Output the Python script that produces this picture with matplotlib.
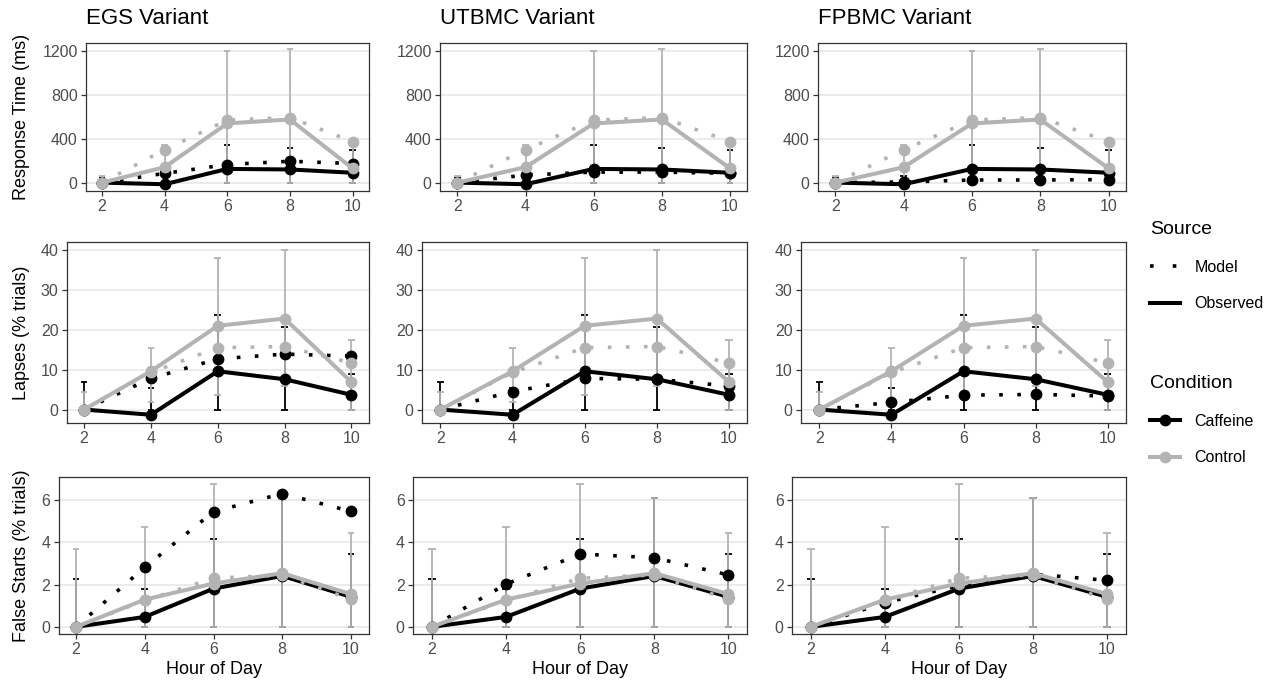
import numpy as np
import matplotlib.pyplot as plt
from matplotlib.lines import Line2D

plt.rcParams['font.family'] = ['Liberation Sans', 'DejaVu Sans']

# ---------------- data ----------------
hours = np.array([2, 4, 6, 8, 10])
variants = ["EGS Variant", "UTBMC Variant", "FPBMC Variant"]
row_titles = ["Response Time (ms)", "Lapses (% trials)", "False Starts (% trials)"]

# Response time
rt_obs_caf = [0, -15, 125, 120, 90]
rt_obs_con = [0, 141, 540, 576, 130]
rt_mod_con = [0, 300, 570, 594, 375]
rt_mod_caf_egs = [0, 84, 165, 195, 174]
rt_mod_caf_utbmc = [0, 69, 96, 96, 84]
rt_mod_caf_fpbmc = [0, 5, 24, 24, 28]
rt_err_caf_lo = [0, 0, 0, 0, 0]
rt_err_caf_hi = [40, 60, 345, 315, 295]
rt_err_con_lo = [0, 0, 0, 0, 0]
rt_err_con_hi = [60, 340, 1200, 1215, 360]

# Lapses
lap_obs_caf = [0, -1.3, 9.6, 7.6, 3.7]
lap_obs_con = [0, 9.6, 21.0, 22.8, 6.9]
lap_mod_con = [0, 9.3, 15.5, 15.8, 11.7]
lap_mod_caf_egs = [0, 7.8, 12.7, 13.9, 13.4]
lap_mod_caf_utbmc = [0, 4.5, 7.8, 7.6, 5.9]
lap_mod_caf_fpbmc = [0, 1.8, 3.6, 3.8, 3.4]
lap_err_caf_lo = [0, 0, 0, 0, 0]
lap_err_caf_hi = [7.0, 5.5, 23.7, 20.7, 9.0]
lap_err_con_lo = [0, 1.8, 3.7, 5.8, 0]
lap_err_con_hi = [4.5, 15.4, 38.0, 40.0, 17.4]

# False starts
fs_obs_caf = [0, 0.47, 1.81, 2.41, 1.42]
fs_obs_con = [0, 1.29, 2.05, 2.54, 1.55]
fs_mod_con = [0, 1.25, 2.3, 2.46, 1.3]
fs_mod_caf_egs = [0, 2.82, 5.45, 6.31, 5.47]
fs_mod_caf_utbmc = [0, 2.02, 3.45, 3.27, 2.46]
fs_mod_caf_fpbmc = [0, 1.15, 1.95, 2.5, 2.2]
fs_err_caf_lo = [0, 0, 0, 0, 0]
fs_err_caf_hi = [2.27, 1.81, 4.17, 6.08, 3.47]
fs_err_con_lo = [0, 0, 0, 0, 0]
fs_err_con_hi = [3.7, 4.75, 6.77, 6.1, 4.45]

rows = [
    dict(obs_caf=rt_obs_caf, obs_con=rt_obs_con, mod_con=rt_mod_con,
         mod_caf=[rt_mod_caf_egs, rt_mod_caf_utbmc, rt_mod_caf_fpbmc],
         err_caf=(rt_err_caf_lo, rt_err_caf_hi), err_con=(rt_err_con_lo, rt_err_con_hi),
         yticks=[0, 400, 800, 1200]),
    dict(obs_caf=lap_obs_caf, obs_con=lap_obs_con, mod_con=lap_mod_con,
         mod_caf=[lap_mod_caf_egs, lap_mod_caf_utbmc, lap_mod_caf_fpbmc],
         err_caf=(lap_err_caf_lo, lap_err_caf_hi), err_con=(lap_err_con_lo, lap_err_con_hi),
         yticks=[0, 10, 20, 30, 40]),
    dict(obs_caf=fs_obs_caf, obs_con=fs_obs_con, mod_con=fs_mod_con,
         mod_caf=[fs_mod_caf_egs, fs_mod_caf_utbmc, fs_mod_caf_fpbmc],
         err_caf=(fs_err_caf_lo, fs_err_caf_hi), err_con=(fs_err_con_lo, fs_err_con_hi),
         yticks=[0, 2, 4, 6]),
]

# ---------------- layout (pixels) ----------------
W, H = 1276, 689
BLACK = "#000000"
GREY = "#B3B3B3"
DOT = (0, (1, 4))

row_top = [42.7, 241.7, 476.7]
row_bottom = [191, 423, 634]
col_left = [[86, 440, 818], [67, 422, 801], [58.5, 413, 792]]
col_right = [368.5, 747.4, 1126]

fig = plt.figure(figsize=(W / 100, H / 100), dpi=100)


def draw_panel(ax, d, v):
    # error bars (observed data only)
    for (lo, hi), col in ((d["err_caf"], BLACK), (d["err_con"], GREY)):
        ax.vlines(hours, lo, hi, color=col, lw=1.3, zorder=2)
        ax.hlines(lo, hours - 0.1, hours + 0.1, color=col, lw=1.3, zorder=2)
        ax.hlines(hi, hours - 0.1, hours + 0.1, color=col, lw=1.3, zorder=2)
    # lines + points, caffeine first, control on top
    for obs, mod, col, z in ((d["obs_caf"], d["mod_caf"][v], BLACK, 3),
                             (d["obs_con"], d["mod_con"], GREY, 5)):
        ax.plot(hours, obs, color=col, lw=2.9, solid_capstyle="butt", zorder=z)
        ax.plot(hours, mod, color=col, lw=2.6, linestyle=DOT, dash_capstyle="butt", zorder=z)
        ax.plot(hours, obs, "o", color=col, ms=7.5, zorder=z + 0.5)
        ax.plot(hours, mod, "o", color=col, ms=7.5, zorder=z + 0.5)

    allv = np.concatenate([d["obs_caf"], d["obs_con"], d["mod_con"], d["mod_caf"][v],
                           d["err_caf"][0], d["err_caf"][1], d["err_con"][0], d["err_con"][1]])
    lo, hi = allv.min(), allv.max()
    pad = 0.05 * (hi - lo)
    ax.set_ylim(lo - pad, hi + pad)
    ax.set_xlim(1.49, 10.51)
    ax.set_xticks(hours)
    ax.set_yticks(d["yticks"])
    ax.tick_params(colors="#333333", labelcolor="#4D4D4D", labelsize=11.5,
                   length=3.5, width=0.9, pad=2.5)
    ax.grid(axis="y", color="#E6E6E6", lw=1.1)
    ax.set_axisbelow(True)
    for s in ax.spines.values():
        s.set_color("#333333")
        s.set_linewidth(0.9)


for r, d in enumerate(rows):
    for c in range(3):
        l, rgt = col_left[r][c], col_right[c]
        t, b = row_top[r], row_bottom[r]
        ax = fig.add_axes([l / W, 1 - b / H, (rgt - l) / W, (b - t) / H])
        draw_panel(ax, d, c)
        if r == 2:
            ax.set_xlabel("Hour of Day", fontsize=13, color="black", labelpad=3)
    # row title on the left
    fig.text(22 / W, 1 - (row_top[r] + row_bottom[r]) / 2 / H, row_titles[r],
             rotation=90, ha="center", va="center", fontsize=13)

# column titles, aligned with the left edge of the top panels
for x, name in zip(col_left[0], variants):
    fig.text(x / W, 1 - 18 / H, name, ha="left", va="center", fontsize=16)

# legends
src = [Line2D([], [], color=BLACK, lw=2.6, linestyle=(0, (1, 5.3)), dash_capstyle="butt"),
       Line2D([], [], color=BLACK, lw=2.9)]
leg1 = fig.legend(src, ["Model", "Observed"], title="Source", loc="upper left",
                  bbox_to_anchor=(1150 / W, 1 - 221 / H), frameon=False,
                  fontsize=11.5, title_fontsize=14, handlelength=1.9,
                  handletextpad=0.9, labelspacing=1.35, borderpad=0,
                  borderaxespad=0, alignment="left")
cond = [Line2D([], [], color=BLACK, lw=2.9, marker="o", ms=7.5),
        Line2D([], [], color=GREY, lw=2.9, marker="o", ms=7.5)]
leg2 = fig.legend(cond, ["Caffeine", "Control"], title="Condition", loc="upper left",
                  bbox_to_anchor=(1150 / W, 1 - 375 / H), frameon=False,
                  fontsize=11.5, title_fontsize=14, handlelength=1.9,
                  handletextpad=0.9, labelspacing=1.35, borderpad=0,
                  borderaxespad=0, alignment="left")

fig.savefig("out.png", dpi=100)
